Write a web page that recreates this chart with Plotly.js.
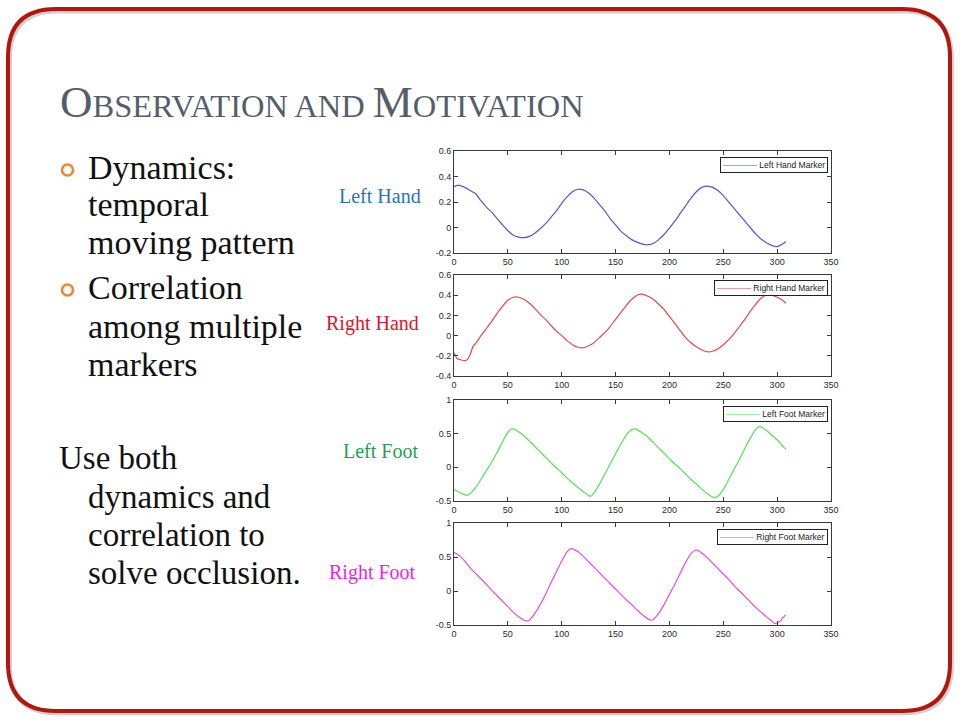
<!DOCTYPE html>
<html>
<head>
<meta charset="utf-8">
<script src="https://cdn.plot.ly/plotly-3.0.1.min.js"></script>
<style>html,body{margin:0;padding:0;background:#fff;}#chart{width:960px;height:720px;}</style>
</head>
<body>
<div id="chart"></div>
<script>
// ---- Data ----
const leftHandX = [0,3,5,10,15,20,25,30,35,40,45,50,55,60,65,70,75,80,85,90,95,100,105,110,115,120,125,130,135,140,145,150,155,160,165,170,175,180,185,190,195,200,205,210,215,220,225,230,235,240,245,250,255,260,265,270,275,280,285,290,295,300,305,308];
const leftHandY = [0.32,0.33,0.33,0.315,0.29,0.265,0.21,0.16,0.12,0.07,0.02,-0.025,-0.06,-0.075,-0.08,-0.07,-0.045,-0.01,0.03,0.08,0.13,0.19,0.24,0.28,0.30,0.295,0.27,0.23,0.18,0.13,0.07,0.02,-0.03,-0.065,-0.095,-0.115,-0.13,-0.135,-0.125,-0.095,-0.055,-0.005,0.05,0.11,0.17,0.23,0.28,0.315,0.325,0.315,0.29,0.25,0.20,0.15,0.10,0.05,0.00,-0.05,-0.09,-0.12,-0.14,-0.15,-0.13,-0.11];

const rightHandX = [0,3,5,10,13,15,18,20,25,30,35,40,45,50,55,60,65,70,75,80,85,90,95,100,105,110,115,120,125,130,135,140,145,150,155,160,165,170,173,175,180,185,190,195,200,205,210,215,220,225,230,235,240,245,250,255,260,265,270,275,280,285,290,295,300,305,308];
const rightHandY = [-0.17,-0.23,-0.235,-0.25,-0.23,-0.19,-0.10,-0.08,0.00,0.07,0.14,0.22,0.29,0.35,0.38,0.38,0.36,0.32,0.27,0.21,0.16,0.10,0.045,0.00,-0.05,-0.09,-0.115,-0.12,-0.10,-0.07,-0.02,0.03,0.09,0.16,0.23,0.30,0.36,0.40,0.41,0.41,0.39,0.36,0.31,0.26,0.19,0.12,0.05,-0.02,-0.07,-0.11,-0.14,-0.16,-0.155,-0.13,-0.09,-0.04,0.02,0.09,0.16,0.24,0.31,0.37,0.40,0.40,0.38,0.35,0.32];

const leftFootX = [0,5,10,13,15,20,25,30,35,40,45,50,53,55,60,65,70,75,80,85,90,95,100,105,110,115,120,125,127,130,135,140,145,150,155,160,165,168,170,175,180,185,190,195,200,205,210,215,220,225,230,235,240,243,245,250,255,260,265,270,275,280,283,285,290,295,300,305,308];
const leftFootY = [-0.33,-0.37,-0.41,-0.41,-0.39,-0.30,-0.18,-0.05,0.08,0.22,0.38,0.52,0.57,0.57,0.53,0.47,0.39,0.31,0.23,0.15,0.07,-0.01,-0.08,-0.16,-0.23,-0.30,-0.36,-0.42,-0.43,-0.38,-0.25,-0.10,0.05,0.20,0.35,0.48,0.56,0.57,0.56,0.51,0.45,0.37,0.29,0.21,0.13,0.05,-0.02,-0.10,-0.18,-0.25,-0.32,-0.39,-0.44,-0.45,-0.43,-0.33,-0.18,-0.03,0.12,0.28,0.43,0.56,0.60,0.60,0.55,0.48,0.41,0.32,0.27];

const rightFootX = [0,5,10,15,20,25,30,35,40,45,50,55,60,65,68,70,75,80,85,90,95,100,105,108,110,115,120,125,130,135,140,145,150,155,160,165,170,175,180,183,185,190,195,200,205,210,215,220,224,226,230,235,240,245,250,255,260,265,270,275,280,285,290,295,298,300,303,305,308];
const rightFootY = [0.57,0.52,0.44,0.34,0.26,0.18,0.10,0.01,-0.07,-0.15,-0.23,-0.31,-0.38,-0.43,-0.44,-0.43,-0.33,-0.20,-0.05,0.12,0.28,0.44,0.58,0.62,0.62,0.58,0.51,0.43,0.35,0.27,0.19,0.11,0.03,-0.05,-0.13,-0.20,-0.28,-0.35,-0.41,-0.43,-0.42,-0.33,-0.20,-0.05,0.10,0.26,0.42,0.55,0.60,0.60,0.56,0.49,0.41,0.33,0.25,0.17,0.08,0.00,-0.08,-0.16,-0.24,-0.31,-0.38,-0.44,-0.48,-0.47,-0.44,-0.40,-0.35];

const seriesNames = ["Left Hand Marker","Right Hand Marker","Left Foot Marker","Right Foot Marker"];
const sideLabels = ["Left Hand","Right Hand","Left Foot","Right Foot"];
const xTicks = [0,50,100,150,200,250,300,350];
const yTicksHand1 = [-0.2,0,0.2,0.4,0.6];
const yTicksHand2 = [-0.4,-0.2,0,0.2,0.4,0.6];
const yTicksFoot = [-0.5,0,0.5,1];
const yTickTextFoot = ["-0.5","0","0.5","1"];

const titleText = ["O","BSERVATION AND ","M","OTIVATION"];
const bulletLines = [["Dynamics:","temporal","moving pattern"],["Correlation","among multiple","markers"]];
const closingLines = ["Use both","dynamics and","correlation to","solve occlusion."];

// ---- Layout helpers ----
const W = 960, H = 720;
const px = x => x / W;
const py = y => 1 - y / H;

const lineColors = ["#5555dd","#e84848","#55e055","#e050e0"];
const labelColors = ["#2a74b8","#e0142c","#22a24e","#f01ef0"];
const plotBoxes = [[151,253],[275,376],[400,501],[523,625]];
const yRanges = [[-0.2,0.6],[-0.4,0.6],[-0.5,1],[-0.5,1]];
const yTickSets = [yTicksHand1,yTicksHand2,yTicksFoot,yTicksFoot];
const legendTops = [157,280,406,529];
const labelY = [196,323,451,572];
const labelRight = [423,421,420,418];

const xs = [leftHandX,rightHandX,leftFootX,rightFootX];
const ys = [leftHandY,rightHandY,leftFootY,rightFootY];

const traces = [];
const layout = {
  width: W, height: H,
  margin: {l:0,r:0,t:0,b:0},
  paper_bgcolor: "#ffffff",
  plot_bgcolor: "#ffffff",
  showlegend: false,
  annotations: [],
  shapes: []
};

for (let i = 0; i < 4; i++) {
  const sfx = i === 0 ? "" : String(i + 1);
  traces.push({
    x: xs[i], y: ys[i], type: "scatter", mode: "lines",
    name: seriesNames[i],
    line: {color: lineColors[i], width: 1.2, shape: "spline", smoothing: 0.6},
    xaxis: "x" + sfx, yaxis: "y" + sfx,
    hoverinfo: "skip"
  });
  const axCommon = {
    showline: true, linecolor: "#3a3a3a", linewidth: 1, mirror: "ticks",
    ticks: "inside", ticklen: 4, tickwidth: 1, tickcolor: "#3a3a3a",
    showgrid: false, zeroline: false, fixedrange: true,
    tickfont: {family: "Arial, Liberation Sans, sans-serif", size: 9, color: "#2a2a2a"}
  };
  layout["xaxis" + sfx] = Object.assign({}, axCommon, {
    domain: [px(454), px(831)], range: [0, 350],
    tickmode: "array", tickvals: xTicks, ticktext: xTicks.map(String),
    anchor: "y" + sfx
  });
  layout["yaxis" + sfx] = Object.assign({}, axCommon, {
    domain: [py(plotBoxes[i][1]), py(plotBoxes[i][0])], range: yRanges[i],
    tickmode: "array", tickvals: yTickSets[i],
    ticktext: i >= 2 ? yTickTextFoot : yTickSets[i].map(String),
    anchor: "x" + sfx
  });
  // MATLAB-style legend box: a line sample in the series colour plus the series name
  layout.annotations.push({
    xref: "paper", yref: "paper", x: px(828), y: py(legendTops[i]),
    xanchor: "right", yanchor: "top", showarrow: false, align: "left",
    text: '<span style="color:' + lineColors[i] + '">\u2014\u2014\u2014\u2014</span> ' + seriesNames[i],
    font: {family: "Arial, Liberation Sans, sans-serif", size: 8.5, color: "#222"},
    bgcolor: "#ffffff", bordercolor: "#222222", borderwidth: 1, borderpad: 2
  });
  layout.annotations.push({
    xref: "paper", yref: "paper", x: px(labelRight[i]), y: py(labelY[i]),
    xanchor: "right", yanchor: "middle", showarrow: false,
    text: sideLabels[i],
    font: {family: "Liberation Serif, serif", size: 20, color: labelColors[i]}
  });
}

// Title (small caps)
const big = 45, small = 32.5;
layout.annotations.push({
  xref: "paper", yref: "paper", x: px(58), y: py(102), xanchor: "left", yanchor: "middle",
  showarrow: false,
  text: titleText.map((t, k) => '<span style="font-size:' + (k % 2 === 0 ? big : small) + 'px">' + t + '</span>').join(""),
  font: {family: "Liberation Serif, serif", size: big, color: "#565e6a"}
});

// Bullet text
const bodyFont = {family: "Liberation Serif, serif", size: 34, color: "#111111"};
const bulletBaselines = [[177,214,252],[297,337,374]];
bulletLines.forEach((grp, g) => {
  grp.forEach((ln, j) => {
    layout.annotations.push({
      xref: "paper", yref: "paper", x: px(86), y: py(bulletBaselines[g][j] - 10),
      xanchor: "left", yanchor: "middle", showarrow: false, text: ln, font: bodyFont
    });
  });
  const cy = [170, 290][g];
  layout.shapes.push({
    type: "circle", xref: "paper", yref: "paper",
    x0: px(62), x1: px(73), y0: py(cy + 5.5), y1: py(cy - 5.5),
    line: {color: "#f0882e", width: 2.6}
  });
});
const closingBaselines = [468,507,545,583];
closingLines.forEach((ln, j) => {
  layout.annotations.push({
    xref: "paper", yref: "paper", x: px(j === 0 ? 57 : 86), y: py(closingBaselines[j] - 10),
    xanchor: "left", yanchor: "middle", showarrow: false, text: ln,
    font: Object.assign({}, bodyFont, {size: 33})
  });
});

// Rounded slide border
function roundRect(l, t, r, b, rad, dx, dy) {
  const X = v => px(v + dx), Y = v => py(v + dy);
  return "M" + X(l + rad) + "," + Y(t) +
    " L" + X(r - rad) + "," + Y(t) +
    " Q" + X(r) + "," + Y(t) + " " + X(r) + "," + Y(t + rad) +
    " L" + X(r) + "," + Y(b - rad) +
    " Q" + X(r) + "," + Y(b) + " " + X(r - rad) + "," + Y(b) +
    " L" + X(l + rad) + "," + Y(b) +
    " Q" + X(l) + "," + Y(b) + " " + X(l) + "," + Y(b - rad) +
    " L" + X(l) + "," + Y(t + rad) +
    " Q" + X(l) + "," + Y(t) + " " + X(l + rad) + "," + Y(t) + " Z";
}
layout.shapes.push({type: "path", xref: "paper", yref: "paper", path: roundRect(8, 9, 950, 711, 48, 1.5, 2), line: {color: "rgba(0,0,0,0.18)", width: 5}, layer: "below"});
layout.shapes.push({type: "path", xref: "paper", yref: "paper", path: roundRect(8, 9, 950, 711, 48, 0, 0), line: {color: "#b3150f", width: 4}});

Plotly.newPlot("chart", traces, layout, {staticPlot: true, displayModeBar: false});
</script>
</body>
</html>
